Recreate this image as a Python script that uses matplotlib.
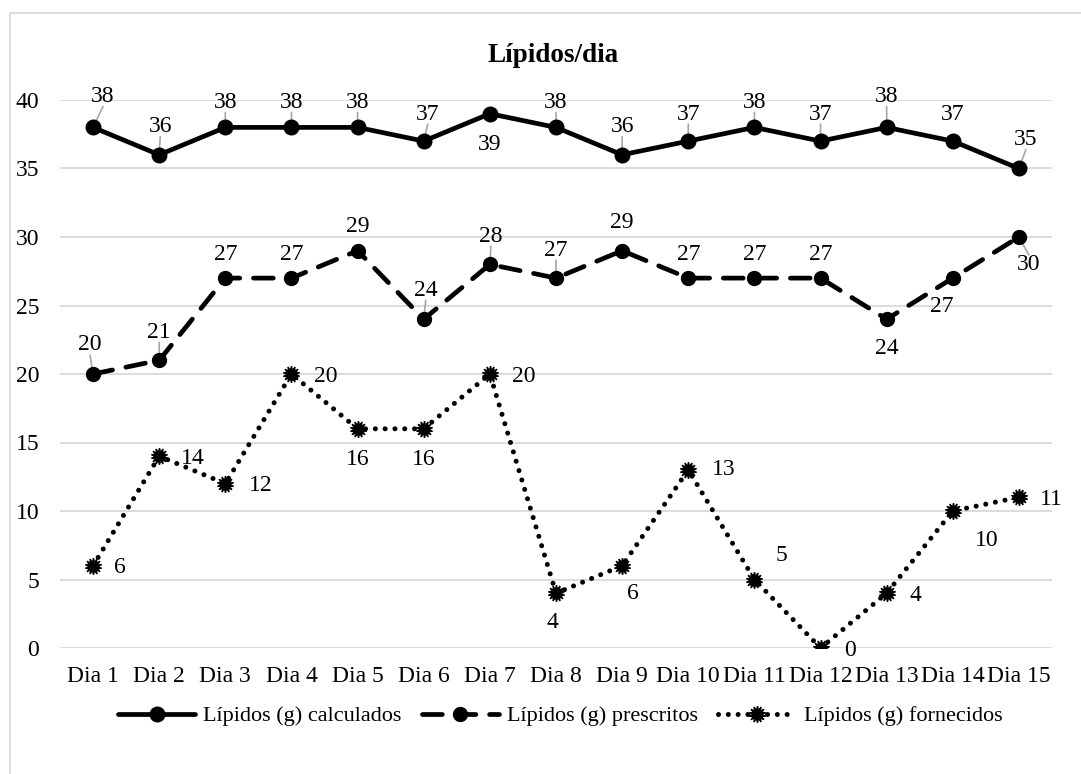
import matplotlib
matplotlib.use("Agg")
import matplotlib.pyplot as plt
from matplotlib.lines import Line2D

plt.rcParams['font.family'] = ['Liberation Serif', 'DejaVu Serif']

categories = ["Dia 1", "Dia 2", "Dia 3", "Dia 4", "Dia 5", "Dia 6", "Dia 7", "Dia 8",
              "Dia 9", "Dia 10", "Dia 11", "Dia 12", "Dia 13", "Dia 14", "Dia 15"]
calculados = [38, 36, 38, 38, 38, 37, 39, 38, 36, 37, 38, 37, 38, 37, 35]
prescritos = [20, 21, 27, 27, 29, 24, 28, 27, 29, 27, 27, 27, 24, 27, 30]
fornecidos = [6, 14, 12, 20, 16, 16, 20, 4, 6, 13, 5, 0, 4, 10, 11]
series_names = ["Lípidos (g) calculados", "Lípidos (g) prescritos", "Lípidos (g) fornecidos"]
title = "Lípidos/dia"
yticks = [0, 5, 10, 15, 20, 25, 30, 35, 40]

FS = 17

# label offsets in pixels (dx, dy; dy positive = up), and leader flag
off_calc = [(10, 31), (1, 28), (0, 25), (0, 25), (0, 25), (4, 27), (0, -31), (0, 25),
            (0, 28), (0, 27), (0, 25), (0, 27), (0, 31), (0, 27), (7, 29)]
lead_calc = [1, 1, 1, 1, 1, 1, 0, 1, 1, 1, 1, 1, 1, 0, 1]
off_pres = [(-3, 29), (0, 28), (0, 24), (0, 24), (0, 24), (2, 29), (1, 28), (0, 28),
            (0, 28), (0, 24), (0, 24), (0, 24), (0, -29), (-11, -28), (10, -28)]
lead_pres = [1, 1, 0, 0, 0, 1, 1, 1, 0, 0, 0, 0, 0, 0, 1]
off_forn = [(27, -2), (34, -2), (35, -2), (34, -2), (0, -31), (0, -31), (34, -2), (-4, -29),
            (11, -28), (35, 0), (27, 24), (29, -2), (29, -2), (34, -29), (32, -2)]

W, H = 1081, 774
fig = plt.figure(figsize=(W / 100, H / 100), dpi=100)
ax = fig.add_axes([60 / W, 1 - 648 / H, (1052 - 60) / W, (648 - 100) / H])

x = list(range(len(categories)))
ax.set_xlim(-0.5, len(categories) - 0.5)
ax.set_ylim(0, 40)
ax.set_yticks(yticks)
ax.set_xticks(x)
ax.set_xticklabels(categories)
ax.tick_params(axis='both', length=0, labelsize=FS)
ax.tick_params(axis='y', pad=15)
ax.tick_params(axis='x', pad=13)
for s in ax.spines.values():
    s.set_visible(False)
ax.yaxis.grid(True, color='#D9D9D9', linewidth=1.3)
ax.set_axisbelow(True)

l1, = ax.plot(x, calculados, color='black', linewidth=3.4, marker='o', markersize=10.5,
              solid_capstyle='round', zorder=3)
l2, = ax.plot(x, prescritos, color='black', linewidth=3.4, marker='o', markersize=10,
              dashes=(4.2, 2.9), dash_capstyle='round', zorder=3)
star = (14, 1, 0)
l3, = ax.plot(x, fornecidos, color='black', linewidth=3.6, marker=star, markersize=12,
              dashes=(0.01, 1.95), dash_capstyle='round', zorder=3)


def label(series, offs, leads):
    for i, v in enumerate(series):
        dx, dy = offs[i]
        ax.annotate(str(v), xy=(i, v), xytext=(dx, dy), textcoords='offset pixels',
                    ha='center', va='center', fontsize=FS, annotation_clip=False, zorder=4)
        if leads is not None and leads[i]:
            ax.annotate('', xy=(i, v), xytext=(dx, dy - (10 if dy > 0 else -10)),
                        textcoords='offset pixels', annotation_clip=False, zorder=2,
                        arrowprops=dict(arrowstyle='-', color='#A6A6A6', lw=1.2,
                                        shrinkA=0, shrinkB=0))


label(calculados, off_calc, lead_calc)
label(prescritos, off_pres, lead_pres)
label(fornecidos, off_forn, None)

fig.text(553 / W, 1 - 56 / H, title, ha='center', va='center', fontsize=19.5,
         fontweight='bold')

# chart area border (left and top visible)
fig.add_artist(Line2D([9.5 / W, 9.5 / W], [0, 1 - 13 / H], color='#D9D9D9', lw=1.3,
                      transform=fig.transFigure))
fig.add_artist(Line2D([9.5 / W, 1], [1 - 13 / H, 1 - 13 / H], color='#D9D9D9', lw=1.3,
                      transform=fig.transFigure))

leg = fig.legend([l1, l2, l3], series_names, loc='center',
                 bbox_to_anchor=(560 / W, 1 - 716 / H),
                 ncol=3, frameon=False, fontsize=16, handlelength=3.5, columnspacing=0.9,
                 handletextpad=0.35)

fig.savefig('out.png', dpi=100)
